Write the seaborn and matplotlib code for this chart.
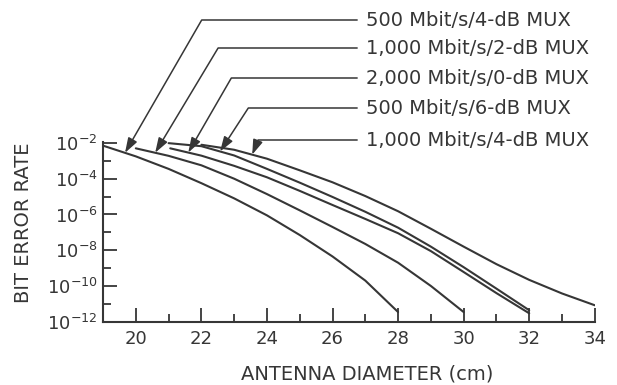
import numpy as np
import pandas as pd
import matplotlib
matplotlib.use("Agg")
import matplotlib.pyplot as plt
from matplotlib.ticker import FixedLocator, FuncFormatter, NullFormatter
import seaborn as sns

# ---- Data: antenna diameter (cm) vs log10(BER) ----
SERIES = ["500 Mbit/s/4-dB MUX", "1,000 Mbit/s/2-dB MUX", "2,000 Mbit/s/0-dB MUX",
          "500 Mbit/s/6-dB MUX", "1,000 Mbit/s/4-dB MUX"]

MUX500_4DB_X = [19, 20, 21, 22, 23, 24, 25, 26, 27, 28]
MUX500_4DB_E = [-2.15, -2.75, -3.45, -4.25, -5.1, -6.05, -7.15, -8.35, -9.7, -11.46]

MUX1000_2DB_X = [20, 21, 22, 23, 24, 25, 26, 27, 28, 29, 30]
MUX1000_2DB_E = [-2.3, -2.72, -3.25, -4.0, -4.86, -5.77, -6.7, -7.65, -8.7, -10.0, -11.46]

MUX2000_0DB_X = [21.05, 22, 23, 24, 25, 26, 27, 28, 29, 30, 31, 32]
MUX2000_0DB_E = [-2.3, -2.71, -3.28, -3.92, -4.68, -5.47, -6.25, -7.05, -8.05, -9.22, -10.4, -11.53]

MUX500_6DB_X = [21, 22, 23, 24, 25, 26, 27, 28, 29, 30, 31, 32]
MUX500_6DB_E = [-2.01, -2.18, -2.7, -3.45, -4.22, -5.02, -5.85, -6.74, -7.8, -8.95, -10.15, -11.36]

MUX1000_4DB_X = [22, 23, 24, 25, 26, 27, 28, 29, 30, 31, 32, 33, 34]
MUX1000_4DB_E = [-2.1, -2.38, -2.88, -3.53, -4.2, -4.97, -5.82, -6.8, -7.8, -8.78, -9.66, -10.42, -11.08]

CURVES_X = [MUX500_4DB_X, MUX1000_2DB_X, MUX2000_0DB_X, MUX500_6DB_X, MUX1000_4DB_X]
CURVES_E = [MUX500_4DB_E, MUX1000_2DB_E, MUX2000_0DB_E, MUX500_6DB_E, MUX1000_4DB_E]

X_MAJOR = [20, 22, 24, 26, 28, 30, 32, 34]
X_MINOR = [21, 23, 25, 27, 29, 31, 33]
Y_MAJOR_EXP = [-12, -10, -8, -6, -4, -2]
Y_MINOR_EXP = [-11, -9, -7, -5, -3]

# where each leader arrow hits its curve (cm), label positions (fig px), leader angle
ARROW_X = [19.67, 20.59, 21.6, 22.57, 23.55]
LABEL_Y = [365, 337, 307, 277, 245]
LEADER_ANGLE = [60, 59, 60, 57, 68]

INK = "#363636"

sns.set_style("ticks")
plt.rcParams["font.family"] = ["DejaVu Sans"]
plt.rcParams["mathtext.default"] = "regular"
plt.rcParams["text.color"] = INK
plt.rcParams["axes.labelcolor"] = INK
plt.rcParams["xtick.color"] = INK
plt.rcParams["ytick.color"] = INK

rows = []
for name, xs, es in zip(SERIES, CURVES_X, CURVES_E):
    for x, e in zip(xs, es):
        rows.append({"series": name, "diameter": x, "ber": 10.0 ** e})
df = pd.DataFrame(rows)

fig = plt.figure(figsize=(6.17, 3.85), dpi=100)
ax = fig.add_axes([0.167, 0.1644, 0.797, 0.4675])
ax.set_yscale("log")

sns.lineplot(data=df, x="diameter", y="ber", hue="series", palette=[INK] * 5,
             sort=False, estimator=None, legend=False, lw=1.5, ax=ax)

ax.set_xlim(19, 34)
ax.set_ylim(1e-12, 10 ** -1.93)
ax.xaxis.set_major_locator(FixedLocator(X_MAJOR))
ax.xaxis.set_minor_locator(FixedLocator(X_MINOR))
ax.yaxis.set_major_locator(FixedLocator([10.0 ** e for e in Y_MAJOR_EXP]))
ax.yaxis.set_minor_locator(FixedLocator([10.0 ** e for e in Y_MINOR_EXP]))
ax.yaxis.set_major_formatter(FuncFormatter(lambda v, p: f"$10^{{{int(round(np.log10(v)))}}}$"))
ax.yaxis.set_minor_formatter(NullFormatter())

ax.tick_params(which="major", direction="in", length=10, width=1.3, labelsize=13)
ax.tick_params(which="minor", direction="in", length=5.5, width=1.3)
ax.tick_params(axis="x", which="major", pad=6)
ax.tick_params(axis="y", which="major", pad=4)
for s in ["left", "bottom"]:
    ax.spines[s].set_linewidth(1.5)
    ax.spines[s].set_color(INK)
sns.despine(ax=ax)

ax.set_xlabel("ANTENNA DIAMETER (cm)", fontsize=14)
ax.set_ylabel("BIT ERROR RATE", fontsize=14)
ax.xaxis.set_label_coords(0.537, -0.24)
ax.yaxis.set_label_coords(-0.142, 0.548)

# leader lines with arrowheads
for name, xs, es, ax_x, ly, ang in zip(SERIES, CURVES_X, CURVES_E, ARROW_X, LABEL_Y, LEADER_ANGLE):
    tip_y = 10.0 ** np.interp(ax_x, xs, es)
    ax.annotate(name, xy=(ax_x, tip_y), xytext=(366, ly), textcoords="figure pixels",
                ha="left", va="center", fontsize=14, color=INK, annotation_clip=False,
                arrowprops=dict(arrowstyle="-|>,head_length=0.75,head_width=0.25",
                                connectionstyle=f"angle,angleA=0,angleB={ang},rad=0",
                                color=INK, lw=1.1, shrinkA=4, shrinkB=0, mutation_scale=12))

fig.savefig("out.png", dpi=100)
plt.close(fig)
